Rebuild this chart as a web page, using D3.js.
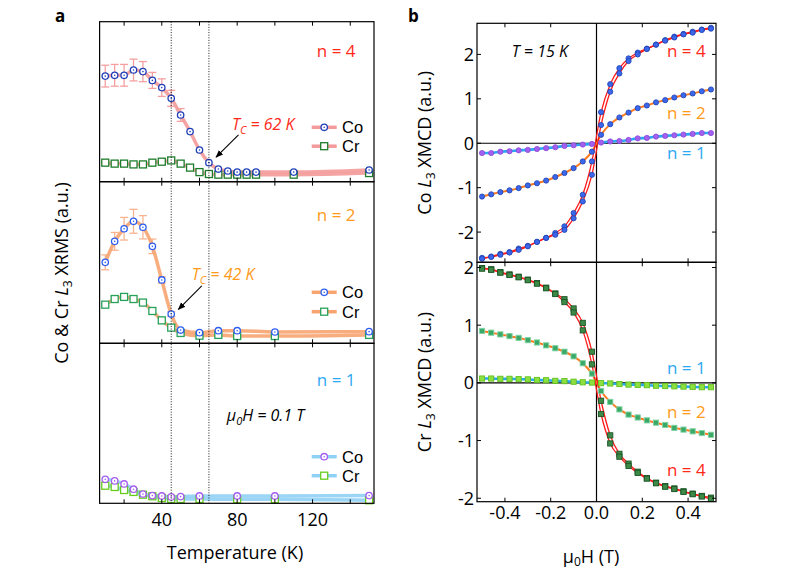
<!DOCTYPE html>
<html><head><meta charset="utf-8">
<script src="https://cdn.jsdelivr.net/npm/d3@7"></script>
<style>body{margin:0;background:#fff} text{font-family:"Open Sans",sans-serif}</style>
</head><body><svg id="c" width="789" height="579"></svg>
<script>
// ---------- Panel a: XRMS vs temperature ----------
const tempTicks = [20, 40, 60, 80, 100, 120, 140];
const tempLabels = [40, 80, 120];
const tcLines = [45, 65];

const T4 = [10,15,20,25,30,35,40,45,50,55,60,65,70,75,80,85,90,110,150];
const co4 = [6.60,6.65,6.65,6.98,6.88,6.33,5.88,5.21,4.17,3.13,1.98,1.19,0.79,0.67,0.60,0.60,0.60,0.60,0.73];
const co4Err = [0.68,0.68,0.68,0.68,0.63,0.50,0.55,0.50,0.40,0,0,0,0,0,0,0,0,0,0];
const cr4 = [1.19,1.13,1.13,1.08,1.08,1.19,1.25,1.33,1.13,0.88,0.60,0.48,0.44,0.44,0.44,0.44,0.44,0.44,0.54];

const T2 = [10,15,20,25,30,35,40,45,50,60,70,80,100,150];
const co2 = [5.01,6.31,7.09,7.55,7.18,6.00,3.92,1.81,0.82,0.66,0.78,0.78,0.70,0.72];
const co2Err = [0.46,0.55,0.70,0.74,0.72,0.45,0.20,0.15,0,0,0,0,0,0];
const cr2 = [2.39,2.74,2.87,2.74,2.52,2.00,1.42,0.97,0.64,0.47,0.52,0.45,0.45,0.52];
const cr2Err = [0.10,0.20,0.20,0.20,0.15,0,0,0,0,0,0,0,0,0];

const T1 = [10,15,20,25,30,35,40,45,50,60,80,100,150];
const co1 = [1.50,1.40,1.21,0.88,0.58,0.48,0.46,0.40,0.42,0.46,0.46,0.46,0.48];
const cr1 = [1.10,1.02,0.83,0.71,0.54,0.44,0.33,0.27,0.27,0.27,0.25,0.25,0.19];

// ---------- Panel b: XMCD vs field ----------
const H = [-0.50,-0.46,-0.42,-0.38,-0.34,-0.30,-0.26,-0.22,-0.18,-0.14,-0.10,-0.06,-0.02,
           0.02,0.06,0.10,0.14,0.18,0.22,0.26,0.30,0.34,0.38,0.42,0.46,0.50];
const coH4a = [-2.58,-2.55,-2.49,-2.45,-2.37,-2.31,-2.22,-2.13,-2.02,-1.87,-1.57,-1.16,-0.41,0.70,1.33,1.69,1.91,2.04,2.13,2.22,2.32,2.40,2.46,2.51,2.56,2.60];
const coH4b = [-2.60,-2.56,-2.51,-2.46,-2.40,-2.32,-2.22,-2.13,-2.06,-1.95,-1.69,-1.31,-0.71,0.41,1.16,1.57,1.85,2.00,2.12,2.22,2.31,2.38,2.45,2.49,2.55,2.58];
const coH2 = [-1.20,-1.15,-1.10,-1.06,-1.01,-0.95,-0.90,-0.84,-0.76,-0.67,-0.56,-0.41,-0.19,0.19,0.43,0.58,0.69,0.79,0.85,0.92,0.97,1.03,1.08,1.12,1.17,1.21];
const coH1 = [-0.22,-0.22,-0.19,-0.18,-0.16,-0.15,-0.13,-0.11,-0.09,-0.06,-0.045,-0.03,-0.015,0.015,0.04,0.05,0.075,0.11,0.12,0.15,0.165,0.18,0.195,0.21,0.23,0.23];
const crH4a = [1.99,1.97,1.92,1.88,1.84,1.79,1.73,1.65,1.55,1.45,1.29,1.04,0.54,-0.31,-0.91,-1.23,-1.40,-1.54,-1.65,-1.73,-1.79,-1.83,-1.88,-1.92,-1.96,-1.99];
const crH4b = [1.98,1.96,1.91,1.87,1.83,1.78,1.72,1.64,1.54,1.40,1.22,0.91,0.32,-0.54,-1.05,-1.28,-1.44,-1.56,-1.66,-1.74,-1.80,-1.84,-1.89,-1.93,-1.97,-2.01];
const crH2 = [0.90,0.87,0.84,0.81,0.78,0.74,0.70,0.65,0.60,0.54,0.46,0.34,0.16,-0.14,-0.33,-0.46,-0.55,-0.60,-0.65,-0.69,-0.73,-0.78,-0.81,-0.84,-0.87,-0.90];
const crH1 = [0.075,0.075,0.07,0.07,0.065,0.06,0.05,0.045,0.035,0.03,0.02,0.01,0.005,-0.005,-0.01,-0.02,-0.03,-0.035,-0.04,-0.05,-0.055,-0.06,-0.065,-0.07,-0.075,-0.075];
const fieldTicks = [-0.4, -0.2, 0, 0.2, 0.4];
const xmcdTicks = [-2, -1, 0, 1, 2];

// ---------- drawing ----------
const svg = d3.select("#c");
const FS = 18;

svg.append("text").attr("x",55).attr("y",21.5).attr("font-weight","bold").attr("font-size",17).text("a");
svg.append("text").attr("x",408).attr("y",21.5).attr("font-weight","bold").attr("font-size",17).text("b");

// ===== Left column =====
const xT = d3.scaleLinear().domain([7,152.6]).range([99.6,374]);
const bounds = [[21.7,181.7],[181.7,343.3],[343.3,503.3]];
const yL = bounds.map(b => d3.scaleLinear().domain([0,10]).range([b[1],b[0]]));

const panelsA = [
  {T:T4, co:co4, coErr:co4Err, cr:cr4, crErr:null, line:"#f49a9a", err:"#f4a0a0",
   coC:"#1f3fb8", crC:"#1e7d2c", label:"n = 4", labC:"#ff2a1a"},
  {T:T2, co:co2, coErr:co2Err, cr:cr2, crErr:cr2Err, line:"#f7a470", err:"#f8b490",
   coC:"#2d5ef0", crC:"#27a25a", label:"n = 2", labC:"#ff9a1a"},
  {T:T1, co:co1, coErr:null, cr:cr1, crErr:null, line:"#8fd0f5", err:"#8fd0f5",
   coC:"#a55cf0", crC:"#66cc1e", label:"n = 1", labC:"#2ea8f2"}
];
const labelY = [56.7, 220.7, 386];
const legY = [[127.3,146.2],[292.3,311.7],[456.7,475.7]];

function circleMark(g, x, y, c){
  g.append("circle").attr("cx",x).attr("cy",y).attr("r",3.2).attr("fill","#fff").attr("stroke",c).attr("stroke-width",1.3);
  g.append("circle").attr("cx",x).attr("cy",y).attr("r",0.8).attr("fill",c);
}
function squareMark(g, x, y, c){
  g.append("rect").attr("x",x-3.5).attr("y",y-3.5).attr("width",7).attr("height",7).attr("fill","#fff").attr("stroke",c).attr("stroke-width",1.3);
}

panelsA.forEach((p,i) => {
  const y = yL[i];
  const g = svg.append("g");
  const ln = d3.line().x((d,j)=>xT(p.T[j])).y(d=>y(d)).curve(d3.curveMonotoneX);
  [[p.co,p.coErr],[p.cr,p.crErr]].forEach(([v,e]) => {
    if(!e) return;
    v.forEach((d,j) => {
      if(!e[j]) return;
      const x = xT(p.T[j]);
      g.append("line").attr("x1",x).attr("x2",x).attr("y1",y(d-e[j])).attr("y2",y(d+e[j])).attr("stroke",p.err).attr("stroke-width",1.3);
      [d-e[j], d+e[j]].forEach(v2 => g.append("line").attr("x1",x-4).attr("x2",x+4).attr("y1",y(v2)).attr("y2",y(v2)).attr("stroke",p.err).attr("stroke-width",1.3));
    });
  });
  g.append("path").attr("d",ln(p.cr)).attr("fill","none").attr("stroke",p.line).attr("stroke-width",3.5).attr("opacity",0.9);
  g.append("path").attr("d",ln(p.co)).attr("fill","none").attr("stroke",p.line).attr("stroke-width",3.5).attr("opacity",0.9);
  p.cr.forEach((d,j)=>squareMark(g,xT(p.T[j]),y(d),p.crC));
  p.co.forEach((d,j)=>circleMark(g,xT(p.T[j]),y(d),p.coC));
  svg.append("text").attr("x",355.5).attr("y",labelY[i]).attr("text-anchor","end").attr("font-size",17).attr("fill",p.labC).text(p.label);
  const [ly1,ly2] = legY[i];
  [[ly1,"Co",circleMark,p.coC],[ly2,"Cr",squareMark,p.crC]].forEach(([ly,t,mk,c]) => {
    svg.append("line").attr("x1",311.7).attr("x2",336.7).attr("y1",ly).attr("y2",ly).attr("stroke",p.line).attr("stroke-width",3.5);
    mk(svg,324.2,ly,c);
    svg.append("text").attr("x",342).attr("y",ly+5.8).style("font-size","16.5px").style("font-family","'Liberation Sans', Arial, sans-serif").text(t);
  });
  svg.append("rect").attr("x",xT.range()[0]).attr("y",bounds[i][0]).attr("width",xT.range()[1]-xT.range()[0])
     .attr("height",bounds[i][1]-bounds[i][0]).attr("fill","none").attr("stroke","#000").attr("stroke-width",1.2);
  tempTicks.forEach(t => {
    svg.append("line").attr("x1",xT(t)).attr("x2",xT(t)).attr("y1",bounds[i][0]).attr("y2",bounds[i][0]+4).attr("stroke","#000");
    svg.append("line").attr("x1",xT(t)).attr("x2",xT(t)).attr("y1",bounds[i][1]).attr("y2",bounds[i][1]-4).attr("stroke","#000");
  });
});

tcLines.forEach(t => svg.append("line").attr("x1",xT(t)).attr("x2",xT(t)).attr("y1",bounds[0][0]).attr("y2",bounds[2][1])
  .attr("stroke","#000").attr("stroke-width",0.9).attr("stroke-dasharray","1,1.6"));

const defs = svg.append("defs");
defs.append("marker").attr("id","ah").attr("viewBox","0 0 10 10").attr("refX",9).attr("refY",5)
  .attr("markerWidth",7).attr("markerHeight",7).attr("orient","auto")
  .append("path").attr("d","M0,1 L10,5 L0,9 Z").attr("fill","#000");
function tcNote(i, tx, ty, ax1, ay1, ax2, ay2, num, col){
  const y = yL[i];
  const t = svg.append("text").attr("x",xT(tx)).attr("y",y(ty)).attr("font-size",16).attr("font-style","italic").attr("fill",col);
  t.append("tspan").text("T");
  t.append("tspan").attr("dy",4).attr("font-size",11).text("C");
  t.append("tspan").attr("dy",-4).text(" = " + num + " K");
  svg.append("line").attr("x1",xT(ax1)).attr("y1",y(ay1)).attr("x2",xT(ax2)).attr("y2",y(ay2))
    .attr("stroke","#000").attr("stroke-width",1.1).attr("marker-end","url(#ah)");
}
tcNote(0, 77.2, 3.23, 80.7, 2.92, 68.8, 1.53, 62, "#ff2a1a");
tcNote(1, 55.9, 3.90, 61.2, 3.55, 48.8, 2.10, 42, "#ff9a1a");

{
  const t = svg.append("text").attr("x",xT(74.5)).attr("y",yL[2](5.13)).attr("font-size",16).attr("font-style","italic");
  t.append("tspan").text("μ");
  t.append("tspan").attr("dy",4).attr("font-size",11).text("0");
  t.append("tspan").attr("dy",-4).text("H = 0.1 T");
}

tempLabels.forEach(t => svg.append("text").attr("x",xT(t)).attr("y",526).attr("text-anchor","middle").attr("font-size",FS).text(t));
svg.append("text").attr("x",235).attr("y",559.3).attr("text-anchor","middle").attr("font-size",FS).text("Temperature (K)");
{
  const t = svg.append("text").attr("transform","translate(68,273) rotate(-90)").attr("text-anchor","middle").attr("font-size",FS);
  t.append("tspan").text("Co & Cr ");
  t.append("tspan").attr("font-style","italic").text("L");
  t.append("tspan").attr("dy",4).attr("font-size",12).text("3");
  t.append("tspan").attr("dy",-4).text(" XRMS (a.u.)");
}

// ===== Right column =====
const xH = d3.scaleLinear().domain([-0.522,0.522]).range([477,716]);
const yCo = d3.scaleLinear().domain([-2.68,2.70]).range([262.3,23.3]);
const yCr = d3.scaleLinear().domain([-2.06,2.09]).range([501.7,262.3]);

function drawSeries(y, vals, lineC, lw, mk, fill, stroke){
  const ln = d3.line().x((d,j)=>xH(H[j])).y(d=>y(d)).curve(d3.curveMonotoneX);
  svg.append("path").attr("d",ln(vals)).attr("fill","none").attr("stroke",lineC).attr("stroke-width",lw);
  return () => vals.forEach((d,j) => {
    if(mk==="c") svg.append("circle").attr("cx",xH(H[j])).attr("cy",y(d)).attr("r",2.6).attr("fill",fill).attr("stroke",stroke).attr("stroke-width",0.8);
    else svg.append("rect").attr("x",xH(H[j])-2.6).attr("y",y(d)-2.6).attr("width",5.2).attr("height",5.2).attr("fill",fill).attr("stroke",stroke).attr("stroke-width",0.9);
  });
}
function axesBox(y, top, bot){
  svg.append("line").attr("x1",xH.range()[0]).attr("x2",xH.range()[1]).attr("y1",y(0)).attr("y2",y(0)).attr("stroke","#000").attr("stroke-width",1.2);
  svg.append("line").attr("x1",xH(0)).attr("x2",xH(0)).attr("y1",top).attr("y2",bot).attr("stroke","#000").attr("stroke-width",1.2);
}
axesBox(yCo, 23.3, 262.3);
axesBox(yCr, 262.3, 501.7);

const m1 = drawSeries(yCo, coH1, "#29aaf0", 2.6, "c", "#a360ee", "#8a48d8");
const m2 = drawSeries(yCo, coH2, "#ff7a1f", 2.0, "c", "#3b68ea", "#2040b0");
const m4a = drawSeries(yCo, coH4a, "#ff1a1a", 1.3, "c", "#3b68ea", "#2040b0");
const m4b = drawSeries(yCo, coH4b, "#ff1a1a", 1.3, "c", "#3b68ea", "#2040b0");
[m1,m2,m4a,m4b].forEach(f=>f());
const c1 = drawSeries(yCr, crH1, "#29aaf0", 2.6, "s", "#8ee040", "#62c21e");
const c2 = drawSeries(yCr, crH2, "#ff7a1f", 2.0, "s", "#3aa866", "#7fd4a4");
const c4a = drawSeries(yCr, crH4a, "#ff1a1a", 1.3, "s", "#3d8a48", "#1c5526");
const c4b = drawSeries(yCr, crH4b, "#ff1a1a", 1.3, "s", "#3d8a48", "#1c5526");
[c1,c2,c4a,c4b].forEach(f=>f());

[[yCo,23.3,262.3],[yCr,262.3,501.7]].forEach(([y,top,bot]) => {
  svg.append("rect").attr("x",xH.range()[0]).attr("y",top).attr("width",xH.range()[1]-xH.range()[0]).attr("height",bot-top)
    .attr("fill","none").attr("stroke","#000").attr("stroke-width",1.2);
  fieldTicks.forEach(h => {
    svg.append("line").attr("x1",xH(h)).attr("x2",xH(h)).attr("y1",top).attr("y2",top+4).attr("stroke","#000");
    svg.append("line").attr("x1",xH(h)).attr("x2",xH(h)).attr("y1",bot).attr("y2",bot-4).attr("stroke","#000");
  });
  xmcdTicks.forEach(v => {
    svg.append("line").attr("x1",xH.range()[0]).attr("x2",xH.range()[0]+4).attr("y1",y(v)).attr("y2",y(v)).attr("stroke","#000");
    svg.append("line").attr("x1",xH.range()[1]).attr("x2",xH.range()[1]-4).attr("y1",y(v)).attr("y2",y(v)).attr("stroke","#000");
    svg.append("text").attr("x",474).attr("y",y(v)+6.5).attr("text-anchor","end").attr("font-size",FS).text(v<0? "-"+Math.abs(v) : v);
  });
});
fieldTicks.forEach(h => svg.append("text").attr("x",xH(h)).attr("y",518.5).attr("text-anchor","middle").attr("font-size",FS).text(h.toFixed(1)));
{
  const t = svg.append("text").attr("x",591).attr("y",562.7).attr("text-anchor","middle").attr("font-size",FS);
  t.append("tspan").text("μ");
  t.append("tspan").attr("dy",3).attr("font-size",12).text("0");
  t.append("tspan").attr("dy",-3).text("H (T)");
}
svg.append("text").attr("x",511.7).attr("y",56.7).attr("font-size",16).attr("font-style","italic").text("T = 15 K");
const rLabels = [[57.3,"n = 4","#ff2a1a"],[119,"n = 2","#ff9a1a"],[159.3,"n = 1","#2ea8f2"],
                 [374,"n = 1","#2ea8f2"],[418.3,"n = 2","#ff9a1a"],[475.7,"n = 4","#ff2a1a"]];
rLabels.forEach(([yy,t,c]) => svg.append("text").attr("x",705.7).attr("y",yy).attr("text-anchor","end").attr("font-size",17).attr("fill",c).text(t));
[[yCo,"Co",23.3,262.3],[yCr,"Cr",262.3,501.7]].forEach(([y,el,top,bot]) => {
  const t = svg.append("text").attr("transform",`translate(431,${(top+bot)/2}) rotate(-90)`).attr("text-anchor","middle").attr("font-size",FS);
  t.append("tspan").text(el + " ");
  t.append("tspan").attr("font-style","italic").text("L");
  t.append("tspan").attr("dy",4).attr("font-size",12).text("3");
  t.append("tspan").attr("dy",-4).text(" XMCD (a.u.)");
});
</script></body></html>
